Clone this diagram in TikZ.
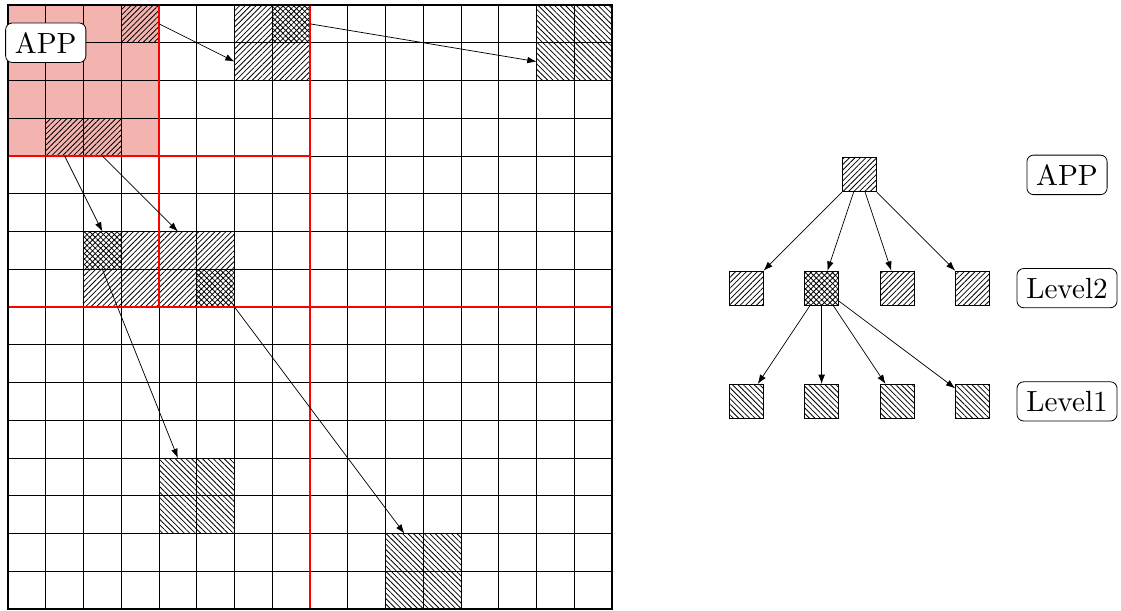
\documentclass[tikz,border=0pt]{standalone}
\usepackage{fontspec}
\setmainfont{lmroman10-regular.otf}
\usetikzlibrary{patterns.meta,arrows.meta}
\definecolor{apppink}{RGB}{243,179,175}
\tikzset{
  cell/.style={minimum size=1cm, inner sep=0pt, outer sep=0pt},
  pne/.style={pattern={Lines[angle=45,distance=2.9pt,line width=0.6pt]}},
  pnw/.style={pattern={Lines[angle=-45,distance=2.9pt,line width=0.6pt]}},
  pcross/.style={pattern={Hatch[angle=45,distance=2.9pt,line width=0.6pt]}},
  ne/.style={cell, pne},
  nw/.style={cell, pnw},
  cross/.style={cell, pcross},
  gridline/.style={line width=0.6pt},
  redline/.style={red, line width=1.3pt},
  arr/.style={-{Latex[length=7pt,width=5pt]}, line width=0.55pt},
  tbox/.style={minimum size=0.9cm, inner sep=0pt, draw, line width=0.6pt},
  tne/.style={tbox, pne},
  tnw/.style={tbox, pnw},
  tcross/.style={tbox, pcross},
  lbl/.style={draw, rounded corners=5pt, fill=white, inner sep=7pt, line width=0.6pt, font=\fontsize{22}{26}\selectfont}
}
\begin{document}
\begin{tikzpicture}
\useasboundingbox (-0.212,-0.026) rectangle (29.48,16.132);
% pink region
\fill[apppink] (0,12) rectangle (4,16);
% hatched cells
\node[ne] (c3r0) at (3.5,15.5) {};
\node[ne] (c1r3) at (1.5,12.5) {};
\node[ne] (c2r3) at (2.5,12.5) {};
\node[ne] (c6r0) at (6.5,15.5) {};
\node[cross] (c7r0) at (7.5,15.5) {};
\node[ne] (c6r1) at (6.5,14.5) {};
\node[ne] (c7r1) at (7.5,14.5) {};
\node[nw] (c14r0) at (14.5,15.5) {};
\node[nw] (c15r0) at (15.5,15.5) {};
\node[nw] (c14r1) at (14.5,14.5) {};
\node[nw] (c15r1) at (15.5,14.5) {};
\node[cross] (c2r6) at (2.5,9.5) {};
\node[ne] (c3r6) at (3.5,9.5) {};
\node[ne] (c4r6) at (4.5,9.5) {};
\node[ne] (c5r6) at (5.5,9.5) {};
\node[ne] (c2r7) at (2.5,8.5) {};
\node[ne] (c3r7) at (3.5,8.5) {};
\node[ne] (c4r7) at (4.5,8.5) {};
\node[cross] (c5r7) at (5.5,8.5) {};
\node[nw] (c4r12) at (4.5,3.5) {};
\node[nw] (c5r12) at (5.5,3.5) {};
\node[nw] (c4r13) at (4.5,2.5) {};
\node[nw] (c5r13) at (5.5,2.5) {};
\node[nw] (c10r14) at (10.5,1.5) {};
\node[nw] (c11r14) at (11.5,1.5) {};
\node[nw] (c10r15) at (10.5,0.5) {};
\node[nw] (c11r15) at (11.5,0.5) {};
% grid
\draw[gridline] (0,0) grid (16,16);
% red partition lines
\draw[redline] (8,0) -- (8,16);
\draw[redline] (0,8) -- (16,8);
\draw[redline] (4,8) -- (4,16);
\draw[redline] (0,12) -- (8,12);
% outer border
\draw[line width=1.4pt] (0,0) rectangle (16,16);
% arrows in grid
\draw[arr] (c3r0.east) -- (c6r1.west);
\draw[arr] (c7r0.east) -- (c14r1.west);
\draw[arr] (c1r3.south) -- (c2r6.north);
\draw[arr] (c2r3.south) -- (c4r6.north);
\draw[arr] (c2r6.south) -- (c4r12.north);
\draw[arr] (c5r7.south east) -- (c10r14.north);
% label in grid
\node[lbl] (gapp) at (1,15) {APP};
% tree
\node[tne] (root) at (22.55,11.5) {};
\node[tne] (m1) at (19.55,8.5) {};
\node[tcross] (m2) at (21.55,8.5) {};
\node[tne] (m3) at (23.55,8.5) {};
\node[tne] (m4) at (25.55,8.5) {};
\node[tnw] (b1) at (19.55,5.5) {};
\node[tnw] (b2) at (21.55,5.5) {};
\node[tnw] (b3) at (23.55,5.5) {};
\node[tnw] (b4) at (25.55,5.5) {};
\foreach \t in {m1,m2,m3,m4} \draw[arr] (root) -- (\t);
\foreach \t in {b1,b2,b3,b4} \draw[arr] (m2) -- (\t);
\node[lbl] (lapp) at (28.05,11.5) {APP};
\node[lbl] (llev2) at (28.05,8.5) {Level2};
\node[lbl] (llev1) at (28.05,5.5) {Level1};
\end{tikzpicture}
\end{document}
